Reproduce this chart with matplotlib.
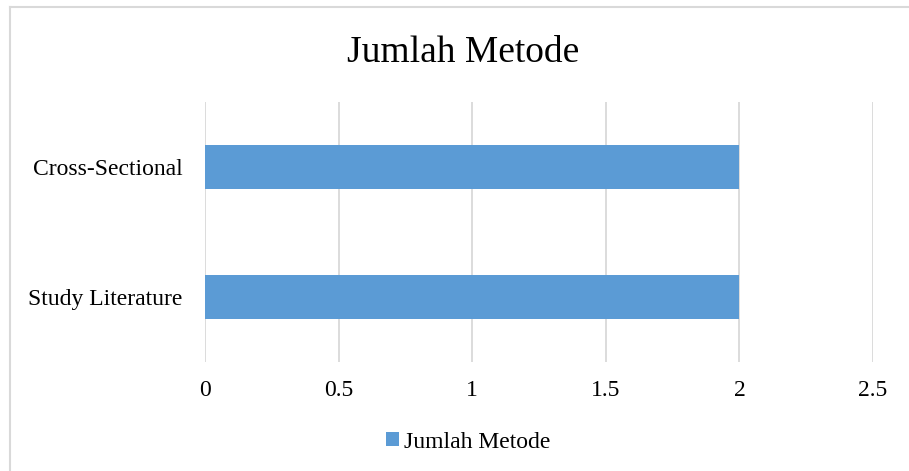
import matplotlib.pyplot as plt
from matplotlib.patches import Patch
from matplotlib.lines import Line2D

categories = ['Study Literature', 'Cross-Sectional']
values = [2, 2]
series_name = 'Jumlah Metode'
x_ticks = [0, 0.5, 1, 1.5, 2, 2.5]
x_tick_labels = ['0', '0.5', '1', '1.5', '2', '2.5']

plt.rcParams['font.family'] = ['Liberation Serif', 'DejaVu Serif']

fig = plt.figure(figsize=(9.09, 4.71), dpi=100)
ax = fig.add_axes([205 / 909, 1 - 362 / 471, 668 / 909, 260 / 471])

bar_color = '#5B9BD5'
ax.barh(range(len(categories)), values, height=0.346, color=bar_color, zorder=3)

ax.set_xlim(0, 2.5)
ax.set_ylim(-0.5, len(categories) - 0.5)
ax.set_xticks(x_ticks)
ax.set_xticklabels(x_tick_labels)
ax.set_yticks(range(len(categories)))
ax.set_yticklabels(categories)
ax.tick_params(axis='both', length=0, labelsize=17, colors='black')
ax.tick_params(axis='x', pad=13)
ax.tick_params(axis='y', pad=16)
ax.grid(axis='x', color='#D9D9D9', linewidth=1.3, zorder=0)
for s in ax.spines.values():
    s.set_visible(False)

fig.text(463 / 909, 1 - 53 / 471, series_name, ha='center', va='center', fontsize=27)

handle = Patch(facecolor=bar_color, edgecolor='none')
fig.legend([handle], [series_name], loc='center', bbox_to_anchor=(468 / 909, 1 - 442 / 471),
           frameon=False, fontsize=17, handlelength=0.55, handleheight=0.55, handletextpad=0.2)

# outer chart border (only top and left visible in the crop)
fig.add_artist(Line2D([10 / 909, 10 / 909], [0, 1 - 7 / 471], transform=fig.transFigure,
                      color='#D9D9D9', linewidth=1.5))
fig.add_artist(Line2D([10 / 909, 1], [1 - 7 / 471, 1 - 7 / 471], transform=fig.transFigure,
                      color='#D9D9D9', linewidth=1.5))

fig.savefig('out.png', dpi=100)
